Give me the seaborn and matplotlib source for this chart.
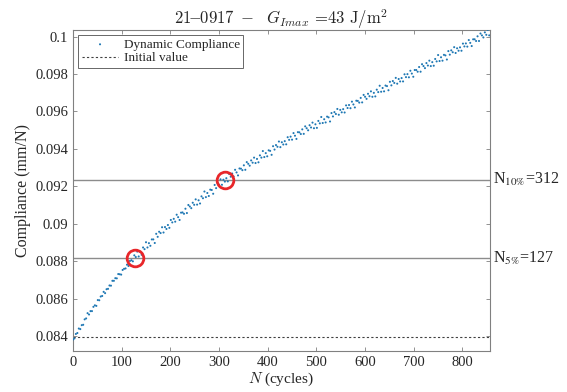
import numpy as np
import pandas as pd
import matplotlib
matplotlib.use("Agg")
import matplotlib.pyplot as plt
import seaborn as sns
from matplotlib.ticker import FuncFormatter, MultipleLocator

# dynamic compliance, read every 3 cycles, in 1e-5 mm/N
compliance_1e5 = [
    8381, 8387, 8411, 8416, 8440, 8437, 8458, 8460, 8489, 8494,
    8522, 8515, 8533, 8533, 8556, 8564, 8561, 8592, 8591, 8611,
    8614, 8636, 8629, 8650, 8652, 8670, 8669, 8695, 8695, 8709,
    8708, 8731, 8730, 8728, 8753, 8759, 8761, 8781, 8774, 8801,
    8805, 8799, 8831, 8822, 8851, 8825, 8849, 8834, 8873, 8864,
    8901, 8873, 8896, 8882, 8916, 8916, 8897, 8946, 8930, 8957,
    8950, 8981, 8953, 8982, 8972, 8993, 8978, 9020, 9007, 9026,
    9011, 9048, 9035, 9020, 9059, 9060, 9053, 9080, 9057, 9100,
    9092, 9083, 9112, 9101, 9130, 9102, 9125, 9108, 9146, 9136,
    9172, 9142, 9164, 9148, 9182, 9180, 9160, 9207, 9190, 9216,
    9208, 9237, 9208, 9235, 9225, 9243, 9226, 9265, 9251, 9268,
    9252, 9288, 9274, 9258, 9295, 9294, 9286, 9312, 9288, 9329,
    9320, 9310, 9338, 9326, 9353, 9324, 9346, 9328, 9365, 9353,
    9388, 9356, 9377, 9360, 9392, 9389, 9368, 9414, 9396, 9420,
    9411, 9439, 9409, 9435, 9423, 9441, 9424, 9462, 9448, 9465,
    9449, 9484, 9470, 9453, 9489, 9488, 9479, 9504, 9480, 9520,
    9510, 9499, 9526, 9514, 9540, 9510, 9531, 9512, 9549, 9536,
    9570, 9538, 9558, 9541, 9572, 9568, 9546, 9591, 9573, 9596,
    9586, 9613, 9582, 9608, 9595, 9612, 9594, 9632, 9618, 9634,
    9617, 9652, 9637, 9621, 9657, 9656, 9647, 9672, 9648, 9688,
    9678, 9667, 9694, 9681, 9707, 9678, 9699, 9680, 9716, 9703,
    9737, 9705, 9725, 9707, 9738, 9735, 9713, 9758, 9739, 9762,
    9752, 9779, 9748, 9773, 9760, 9778, 9760, 9798, 9783, 9799,
    9782, 9817, 9802, 9785, 9821, 9821, 9812, 9837, 9812, 9852,
    9842, 9831, 9858, 9845, 9871, 9842, 9863, 9844, 9880, 9867,
    9901, 9869, 9889, 9871, 9902, 9899, 9877, 9922, 9903, 9926,
    9916, 9943, 9912, 9937, 9924, 9942, 9924, 9962, 9947, 9963,
    9946, 9981, 9966, 9949, 9985, 9985, 9976, 10001, 9976, 10016,
    10006, 9995, 10022, 10009, 10035, 10006,
]
cycles = np.arange(0, 3 * len(compliance_1e5), 3)

initial_value = 0.08395
n_marks = [127, 312]
c_marks = [0.08815, 0.09235]
mark_labels = [r"N$_{5\%}$=127", r"N$_{10\%}$=312"]

df = pd.DataFrame({"N": cycles, "C": np.array(compliance_1e5) * 1e-5})

sns.set_style("ticks")
plt.rcParams["font.family"] = ["Liberation Serif", "DejaVu Serif"]
plt.rcParams["mathtext.fontset"] = "cm"

fig = plt.figure(figsize=(5.67, 3.92), dpi=100)
ax = fig.add_axes([0.1287, 0.1046, 0.735, 0.819])

sns.scatterplot(data=df, x="N", y="C", ax=ax, s=2.2, color="#1f78b4",
                edgecolor="none", label="Dynamic Compliance", zorder=3)
ax.axhline(initial_value, color="#404040", ls=(0, (2, 2)), lw=0.8,
           label="Initial value")
for c in c_marks:
    ax.axhline(c, color="#8c8c8c", lw=1.0, zorder=2)
ax.plot(n_marks, c_marks, "o", ms=12, mfc="none", mec="#e8262a", mew=2,
        zorder=4)

for c, lab in zip(c_marks, mark_labels):
    ax.text(1.008, c, lab, transform=ax.get_yaxis_transform(), fontsize=11.5,
            va="center", ha="left", color="#262626", math_fontfamily="stix")

ax.set_xlim(0, 856)
ax.set_ylim(0.0832, 0.10035)
ax.xaxis.set_major_locator(MultipleLocator(100))
ax.yaxis.set_major_locator(MultipleLocator(0.002))
ax.yaxis.set_major_formatter(FuncFormatter(lambda v, p: f"{v:g}"))
ax.tick_params(direction="in", top=True, right=True, length=3,
               labelsize=10.5, colors="#262626", width=0.6)
ax.tick_params(axis="both", color="#808080")
for sp in ax.spines.values():
    sp.set_color("#808080")
    sp.set_linewidth(0.8)

ax.set_xlabel(r"$N$ (cycles)", fontsize=11, labelpad=1, color="#262626")
ax.set_ylabel("Compliance (mm/N)", fontsize=11.5, labelpad=3, color="#262626")
ax.set_title(r"$\mathrm{21\!\!-\!\!0917}\ -\ \ G_{Imax}\,=\!43\ \mathrm{J/m^2}$",
             fontsize=12, pad=4, color="#262626")

leg = ax.legend(loc="upper left", fontsize=9.5, frameon=True, fancybox=False,
                borderpad=0.25, handlelength=2.8, handletextpad=0.4,
                labelspacing=0.1, markerscale=1.0, borderaxespad=0.4)
leg.get_frame().set_edgecolor("#404040")
leg.get_frame().set_linewidth(0.7)

fig.savefig("out.png", dpi=100)
